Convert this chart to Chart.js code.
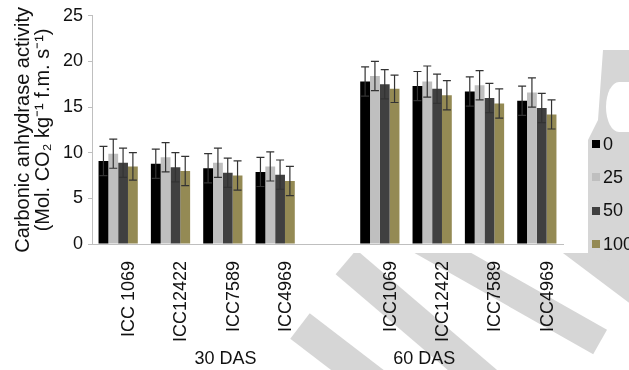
<!DOCTYPE html>
<html>
<head>
<meta charset="utf-8">
<script src="https://cdn.jsdelivr.net/npm/chart.js@4.4.1/dist/chart.umd.min.js"></script>
<style>
  html, body { margin: 0; padding: 0; background: #fff; }
  #wrap { position: relative; width: 629px; height: 370px; overflow: hidden;
          font-family: 'Liberation Sans', Arial, sans-serif; }
  .band { position: absolute; background: #d6d6d6; transform-origin: 0 50%; }
  #cover { position: absolute; left: 0; top: 0; width: 588px; height: 253px; background: #fff; }
  #chart { position: absolute; left: 0; top: 0; }
  .item { position: absolute; left: 592px; height: 22px; display: flex; align-items: center;
          font-size: 18px; color: #111; white-space: nowrap; }
  .item i { display: inline-block; width: 8px; height: 8px; margin-right: 3px; }
</style>
</head>
<body>
<div id="wrap">
  <div id="cover"></div>
  <canvas id="chart" width="629" height="370"></canvas>
</div>
<script>
// genotypes, with an empty slot between the two sampling dates
let genotypes = ["ICC 1069", "ICC12422", "ICC7589", "ICC4969", "", "ICC1069", "ICC12422", "ICC7589", "ICC4969"]
let groupLabels = ["30 DAS", "60 DAS"]
let seriesNames = ["0", "25", "50", "100"]
let seriesColors = ["#000000", "#bfbfbf", "#404040", "#948a54"]

let vals0   = [9.1, 8.8, 8.3, 7.9, null, 17.8, 17.3, 16.7, 15.7]
let vals25  = [9.9, 9.5, 8.9, 8.5, null, 18.4, 17.8, 17.4, 16.6]
let vals50  = [8.9, 8.4, 7.8, 7.6, null, 17.5, 17.0, 16.0, 14.9]
let vals100 = [8.5, 8.0, 7.5, 6.9, null, 17.0, 16.3, 15.4, 14.2]

let err0   = [1.6, 1.6, 1.6, 1.6, null, 1.6, 1.6, 1.6, 1.6]
let err25  = [1.6, 1.6, 1.6, 1.6, null, 1.6, 1.7, 1.6, 1.6]
let err50  = [1.6, 1.6, 1.6, 1.6, null, 1.6, 1.6, 1.6, 1.6]
let err100 = [1.5, 1.6, 1.6, 1.6, null, 1.5, 1.6, 1.6, 1.6]

let yTicks = [0, 5, 10, 15, 20, 25]

const FONT = "'Liberation Sans', Arial, sans-serif"

let wrap = document.getElementById("wrap")
let cover = document.getElementById("cover")

// light grey watermark strokes, hidden behind the white plot box
function band(x1, y1, x2, y2, w) {
    let d = document.createElement("div")
    d.className = "band"
    let len = Math.hypot(x2 - x1, y2 - y1)
    let ang = Math.atan2(y2 - y1, x2 - x1) * 180 / Math.PI
    d.style.left = x1 + "px"
    d.style.top = (y1 - w / 2) + "px"
    d.style.width = len + "px"
    d.style.height = w + "px"
    d.style.transform = "rotate(" + ang + "deg)"
    wrap.insertBefore(d, cover)
}
band(300, 326, 420, 418, 32)
band(346, 262, 490, 385, 32)
band(420, 240, 600, 342, 28)
band(560, 232, 690, 330, 30)
let big = document.createElement("div")
big.className = "band"
big.style.left = "586px"; big.style.top = "50px"; big.style.width = "43px"; big.style.height = "230px"
big.style.clipPath = "polygon(17px 0, 43px 0, 43px 225px, 2px 197px, 2px 90px, 12px 70px)"
wrap.insertBefore(big, cover)
let hole = document.createElement("div")
hole.style.cssText = "position:absolute;left:606px;top:82px;width:26px;height:50px;background:#fff;border-radius:50% 0 0 50%"
wrap.insertBefore(hole, cover)

// legend
seriesNames.forEach(function(n, i) {
    let it = document.createElement("div")
    it.className = "item"
    it.style.top = (133 + i * 33.4) + "px"
    it.innerHTML = '<i style="background:' + seriesColors[i] + '"></i>' + n
    wrap.appendChild(it)
})

const errorBars = {
    id: "errorBars",
    afterDatasetsDraw(chart) {
        let ctx = chart.ctx
        let y = chart.scales.y
        chart.data.datasets.forEach(function(ds, i) {
            chart.getDatasetMeta(i).data.forEach(function(bar, j) {
                let v = ds.data[j]
                if (v == null) return
                let top = y.getPixelForValue(v + ds.errors[j])
                let bot = y.getPixelForValue(v - ds.errors[j])
                ctx.save()
                ctx.strokeStyle = "#333"
                ctx.lineWidth = 1.2
                ctx.beginPath()
                ctx.moveTo(bar.x, top); ctx.lineTo(bar.x, bot)
                ctx.moveTo(bar.x - 4, top); ctx.lineTo(bar.x + 4, top)
                ctx.moveTo(bar.x - 4, bot); ctx.lineTo(bar.x + 4, bot)
                ctx.stroke()
                ctx.restore()
            })
        })
    }
}

const groupNames = {
    id: "groupNames",
    afterDraw(chart) {
        let ctx = chart.ctx
        let x = chart.scales.x
        let at = [2.05, 5.85]
        ctx.save()
        ctx.font = "18px " + FONT
        ctx.fillStyle = "#111"
        ctx.textAlign = "center"
        ctx.textBaseline = "alphabetic"
        groupLabels.forEach(function(g, i) {
            ctx.fillText(g, x.getPixelForValue(at[i]), 364)
        })
        ctx.restore()
    }
}

function makeSet(i, data, errors) {
    return {
        label: seriesNames[i],
        data: data,
        errors: errors,
        backgroundColor: seriesColors[i],
        borderWidth: 0,
        categoryPercentage: 0.75,
        barPercentage: 1.0
    }
}

new Chart(document.getElementById("chart"), {
    type: "bar",
    data: {
        labels: genotypes,
        datasets: [
            makeSet(0, vals0, err0),
            makeSet(1, vals25, err25),
            makeSet(2, vals50, err50),
            makeSet(3, vals100, err100)
        ]
    },
    options: {
        responsive: false,
        animation: false,
        devicePixelRatio: 1,
        layout: { padding: { left: 0, top: 14, right: 66, bottom: 0 } },
        plugins: {
            legend: { display: false },
            tooltip: { enabled: false }
        },
        scales: {
            x: {
                grid: { display: false },
                border: { color: "#bfbfbf", width: 1 },
                ticks: {
                    color: "#111",
                    font: { family: FONT, size: 18 },
                    minRotation: 90,
                    maxRotation: 90,
                    padding: 9,
                    labelOffset: 11,
                    autoSkip: false
                },
                afterFit: function(s) { s.height = 126 }
            },
            y: {
                min: 0,
                max: 25,
                afterBuildTicks: function(s) { s.ticks = yTicks.map(v => ({ value: v })) },
                grid: { drawOnChartArea: false, drawTicks: true, tickLength: 4, color: "#bfbfbf" },
                border: { color: "#bfbfbf", width: 1 },
                ticks: { color: "#111", font: { family: FONT, size: 18 }, padding: 5 },
                title: {
                    display: true,
                    text: ["Carbonic anhydrase activity", "(Mol. CO\u2082 kg\u207B\u00B9 f.m. s\u207B\u00B9)"],
                    color: "#111",
                    font: { family: FONT, size: 20, lineHeight: 1.0 },
                    padding: { top: 13, bottom: 0 }
                },
                afterFit: function(s) { s.width = 92 }
            }
        }
    },
    plugins: [errorBars, groupNames]
})
</script>
</body>
</html>
